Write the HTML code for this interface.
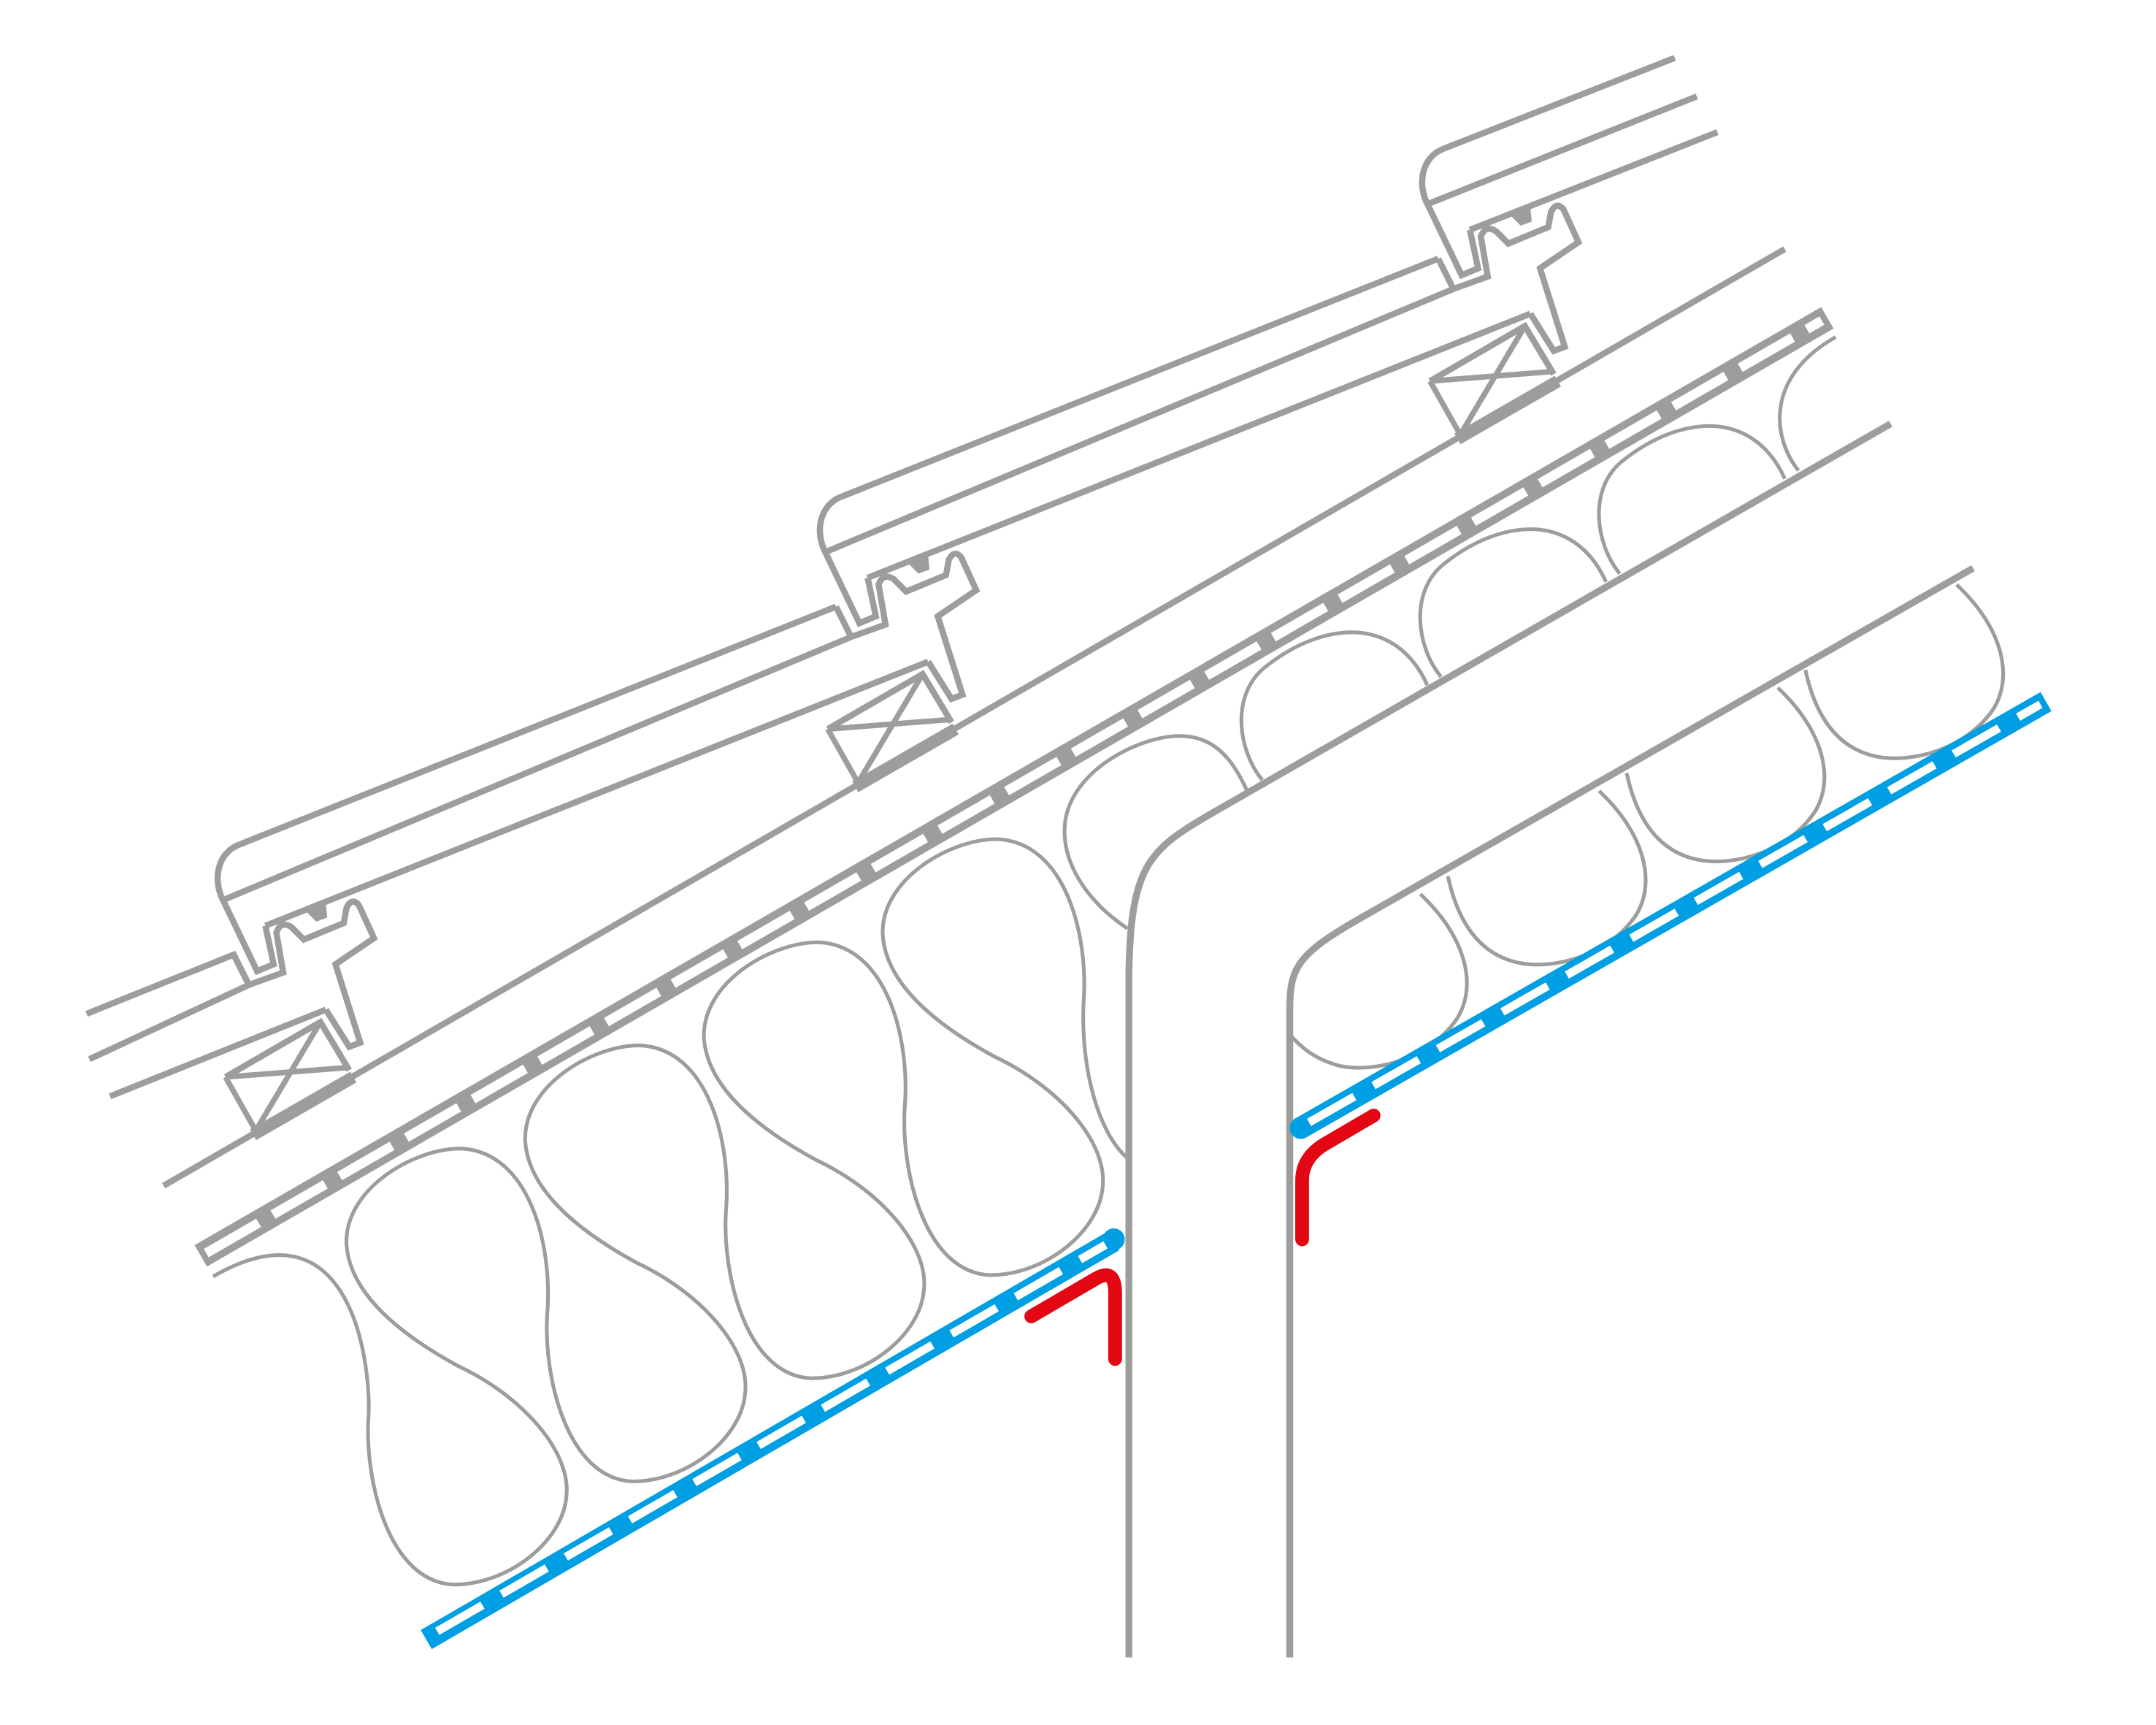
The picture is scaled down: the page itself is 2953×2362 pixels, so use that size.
<!DOCTYPE html>
<html><head><meta charset="utf-8"><style>html,body{margin:0;padding:0;background:#fff}svg{display:block}</style></head>
<body>
<svg width="2953" height="2362" viewBox="0 0 1568 1254" xmlns="http://www.w3.org/2000/svg">
<defs>
<g id="nose" fill="none" stroke="#9d9d9c" stroke-width="4.5" stroke-linejoin="miter">
  <path d="M1050,108 C1034,114 1030,134 1039,150 L1063,200 L1075,195 L1069,167"/>
  <polygon points="1099,157 1106,164 1114,161 1113,151" fill="#9d9d9c" stroke="none"/>
  <path d="M1046,188 L1057,210 L1082,201 L1077,172 Q1080,163 1088,168 L1097,177 L1126,165 L1128,154 Q1132,146 1137,152 L1148,176 L1120,195 L1138,252 L1130,255 L1113,228"/>
  <path d="M1040,277 L1109,237 L1130,272"/>
  <path d="M1040,277 L1130,270 M1109,237 L1062,316 M1040,277 L1062,316" stroke-width="4"/>
  <line x1="1060" y1="319" x2="1133" y2="277" stroke-width="9"/>
</g>
</defs>
<g fill="none" stroke="#9d9d9c" stroke-width="4.5">
  <path d="M1218,42 L1050,108 M1039,148 L1234,70 M1069,167 L1249,96"/>
  <path d="M612,361 L1046,188 M601,401 L1057,210 M631,420 L1113,228"/>
  <path d="M174,614 L608,441 M163,654 L619,463 M193,673 L675,481"/>
  <path d="M63,737 L170,694 L181,716 L65,770 M80,797 L237,734"/>
  <line x1="119" y1="862" x2="1298" y2="181"/>
  <path d="M1375,308 L880,592 C835,618 822,630 821,710 L821,1205" stroke-width="5"/>
  <path d="M1435,413 L985,670 C942,695 938,705 938,735 L938,1205" stroke-width="5"/>
</g>
<use href="#nose"/>
<use href="#nose" transform="translate(-438,253)"/>
<use href="#nose" transform="translate(-876,506)"/>
<line x1="146" y1="913" x2="1329" y2="231" stroke="#9d9d9c" stroke-width="18"/>
<line x1="150" y1="911" x2="1325" y2="233" stroke="#fff" stroke-width="7" stroke-dasharray="44 12"/>
<g fill="none" stroke="#9d9d9c" stroke-width="2.7">
  <path d="M820,842 C800,825 786,780 788,730
   C792,680 775,612 725,610 C690,610 640,640 642,680 C645,720 690,750 723,768 C770,790 805,830 802,862 C800,895 760,927 720,927 C672,925 655,850 658,805
   C662,755 645,687 595,685 C560,685 510,715 512,755 C515,795 560,825 593,843 C640,865 675,905 672,937 C670,970 630,1002 590,1002 C542,1000 525,925 528,880
   C532,830 515,762 465,760 C430,760 380,790 382,830 C385,870 430,900 463,918 C510,940 545,980 542,1012 C540,1045 500,1077 460,1077 C412,1075 395,1000 398,955
   C402,905 385,837 335,835 C300,835 250,865 252,905 C255,945 300,975 333,993 C380,1015 415,1055 412,1087 C410,1120 370,1152 330,1152 C282,1150 265,1075 268,1030
   C270,990 255,870 155,928"/>
  <path d="M820,675 C790,655 770,625 775,595 C782,558 830,535 858,535 C885,535 898,555 907,575"/>
  <path d="M918,567 C900,545 895,505 920,485 C945,465 970,458 990,460 C1015,463 1030,480 1038,498"/>
  <path d="M1048,492 C1030,470 1025,430 1050,410 C1075,390 1100,383 1120,385 C1145,388 1160,405 1168,423"/>
  <path d="M1178,417 C1160,395 1155,355 1180,335 C1205,315 1230,308 1250,310 C1275,313 1290,330 1298,348"/>
  <path d="M1308,342 C1290,320 1282,275 1335,245"/>
  <path d="M1423,425 C1455,455 1465,490 1450,515 C1430,545 1390,555 1365,550 C1330,543 1318,510 1313,487"/>
  <path d="M1293,500 C1325,530 1335,565 1320,590 C1300,620 1260,630 1235,625 C1200,618 1188,585 1183,562"/>
  <path d="M1163,575 C1195,605 1205,640 1190,665 C1170,695 1130,705 1105,700 C1070,693 1058,660 1053,637"/>
  <path d="M1033,650 C1065,680 1075,715 1060,740 C1040,770 1000,780 975,775 C955,770 945,760 938,752"/>
</g>
<line x1="310" y1="1192" x2="810" y2="902" stroke="#009fe3" stroke-width="16"/>
<circle cx="810" cy="901" r="8" fill="#009fe3"/>
<line x1="318" y1="1186" x2="804" y2="905" stroke="#fff" stroke-width="6" stroke-dasharray="38 16"/>
<line x1="946" y1="820" x2="1488" y2="510" stroke="#009fe3" stroke-width="16"/>
<circle cx="946" cy="820" r="8" fill="#009fe3"/>
<line x1="952" y1="816" x2="1484" y2="512" stroke="#fff" stroke-width="6" stroke-dasharray="38 16"/>
<g fill="none" stroke="#e30613" stroke-width="10" stroke-linecap="round" stroke-linejoin="round">
  <path d="M750,957 L798,929 Q811,922 811,940 L811,988"/>
  <path d="M999,811 L963,832 Q947,842 947,858 L947,901"/>
</g>
</svg>
</body></html>
